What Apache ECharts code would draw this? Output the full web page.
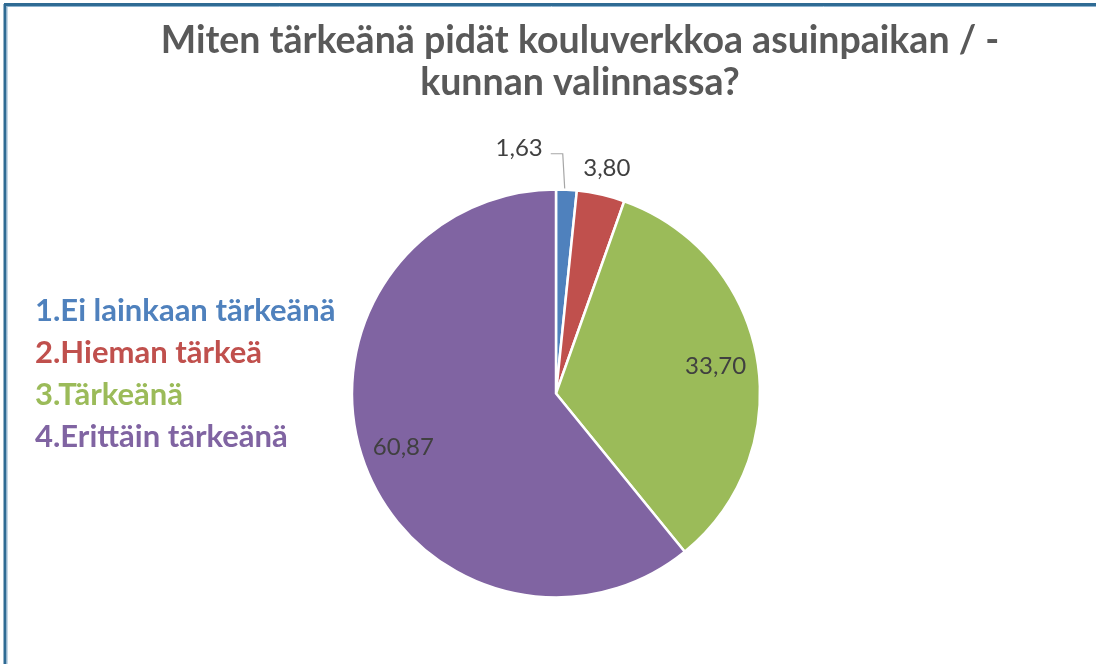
<!DOCTYPE html>
<html>
<head>
<meta charset="utf-8">
<script src="https://cdn.jsdelivr.net/npm/echarts@6/dist/echarts.min.js"></script>
<style>
  html, body { margin: 0; padding: 0; background: #ffffff; }
  #chart { width: 1096px; height: 664px; }
</style>
</head>
<body>
<div id="chart"></div>
<script>
// ---- data ----
const titleText = 'Miten tärkeänä pidät kouluverkkoa asuinpaikan / -\nkunnan valinnassa?';
const categories = ['1.Ei lainkaan tärkeänä', '2.Hieman tärkeä', '3.Tärkeänä', '4.Erittäin tärkeänä'];
const values = [1.63, 3.80, 33.70, 60.87];
const valueLabels = ['1,63', '3,80', '33,70', '60,87'];
const colors = ['#4f81bd', '#c0504d', '#9bbb59', '#8064a2'];

// which label goes where
const innerLabelIdx = [2, 3];   // inside the slice
const outerLabelIdx = [1];      // just outside the slice
const leaderLabelIdx = [0];     // outside with leader line

const center = [556, 393.5];
const R = 204;
const FONT = 'Lato, "Open Sans", sans-serif';

function makeData(showIdx) {
  return categories.map((c, i) => ({
    name: c,
    value: values[i],
    label: { show: showIdx.indexOf(i) >= 0 },
    labelLine: { show: showIdx.indexOf(i) >= 0 }
  }));
}

const chart = echarts.init(document.getElementById('chart'), null, { renderer: 'canvas' });

const labelStyle = {
  color: '#404040',
  fontFamily: FONT,
  fontSize: 24,
  formatter: p => valueLabels[p.dataIndex]
};

const option = {
  backgroundColor: '#ffffff',
  animation: false,
  color: colors,
  title: {
    text: titleText,
    left: 575,
    top: 15,
    textAlign: 'center',
    textStyle: {
      color: '#595959',
      fontFamily: FONT,
      fontWeight: 'bold',
      fontSize: 37.5,
      lineHeight: 42
    }
  },
  legend: {
    orient: 'vertical',
    left: 25,
    top: 290,
    icon: 'none',
    itemWidth: 0,
    itemHeight: 0,
    itemGap: 10,
    selectedMode: false,
    data: categories.map((c, i) => ({
      name: c,
      textStyle: { color: colors[i] }
    })),
    textStyle: {
      fontFamily: FONT,
      fontWeight: 'bold',
      fontSize: 31,
      lineHeight: 32
    }
  },
  graphic: [
    { type: 'line', shape: { x1: 5, y1: 4, x2: 5, y2: 664 }, style: { stroke: '#2f6b94', lineWidth: 3 }, silent: true },
    { type: 'line', shape: { x1: 4, y1: 4.5, x2: 1096, y2: 4.5 }, style: { stroke: '#2f6b94', lineWidth: 3 }, silent: true },
    { type: 'line', shape: { x1: 7, y1: 6.5, x2: 7, y2: 664 }, style: { stroke: '#8fb3cf', lineWidth: 1 }, silent: true },
    { type: 'line', shape: { x1: 7, y1: 6.5, x2: 1096, y2: 6.5 }, style: { stroke: '#8fb3cf', lineWidth: 1 }, silent: true }
  ],
  series: [
    {
      // main pie with leader-line label for the smallest slice
      type: 'pie',
      center: center,
      radius: [0, R],
      startAngle: 90,
      clockwise: true,
      avoidLabelOverlap: false,
      itemStyle: { borderColor: '#ffffff', borderWidth: 2.5 },
      emphasis: { disabled: true },
      label: Object.assign({ position: 'outside', padding: [0, 8, 0, 0] }, labelStyle),
      labelLine: {
        length: 15,
        length2: 14,
        minTurnAngle: 0,
        lineStyle: { color: '#a6a6a6', width: 1.2 }
      },
      labelLayout: function (p) {
        if (leaderLabelIdx.indexOf(p.dataIndex) < 0) return {};
        const r = p.rect;
        return {
          x: r.x - 4,
          y: r.y - 39.5,
          align: 'right',
          verticalAlign: 'middle',
          labelLinePoints: [
            [r.x + 10, r.y + 1],
            [r.x + 8, r.y - 34.5],
            [r.x - 4, r.y - 34.5]
          ]
        };
      },
      data: makeData(leaderLabelIdx)
    },
    {
      // invisible ring used to place labels inside the large slices
      type: 'pie',
      center: center,
      radius: [114, R],
      startAngle: 90,
      clockwise: true,
      silent: true,
      avoidLabelOverlap: false,
      itemStyle: { color: 'rgba(0,0,0,0)', borderWidth: 0 },
      emphasis: { disabled: true },
      label: Object.assign({ position: 'inside' }, labelStyle),
      labelLine: { show: false },
      data: makeData(innerLabelIdx)
    },
    {
      // invisible outer ring used to place labels just outside small slices
      type: 'pie',
      center: center,
      radius: [R, 252],
      startAngle: 90,
      clockwise: true,
      silent: true,
      avoidLabelOverlap: false,
      itemStyle: { color: 'rgba(0,0,0,0)', borderWidth: 0 },
      emphasis: { disabled: true },
      label: Object.assign({ position: 'inside' }, labelStyle),
      labelLine: { show: false },
      data: makeData(outerLabelIdx)
    }
  ]
};

chart.setOption(option);
</script>
</body>
</html>
